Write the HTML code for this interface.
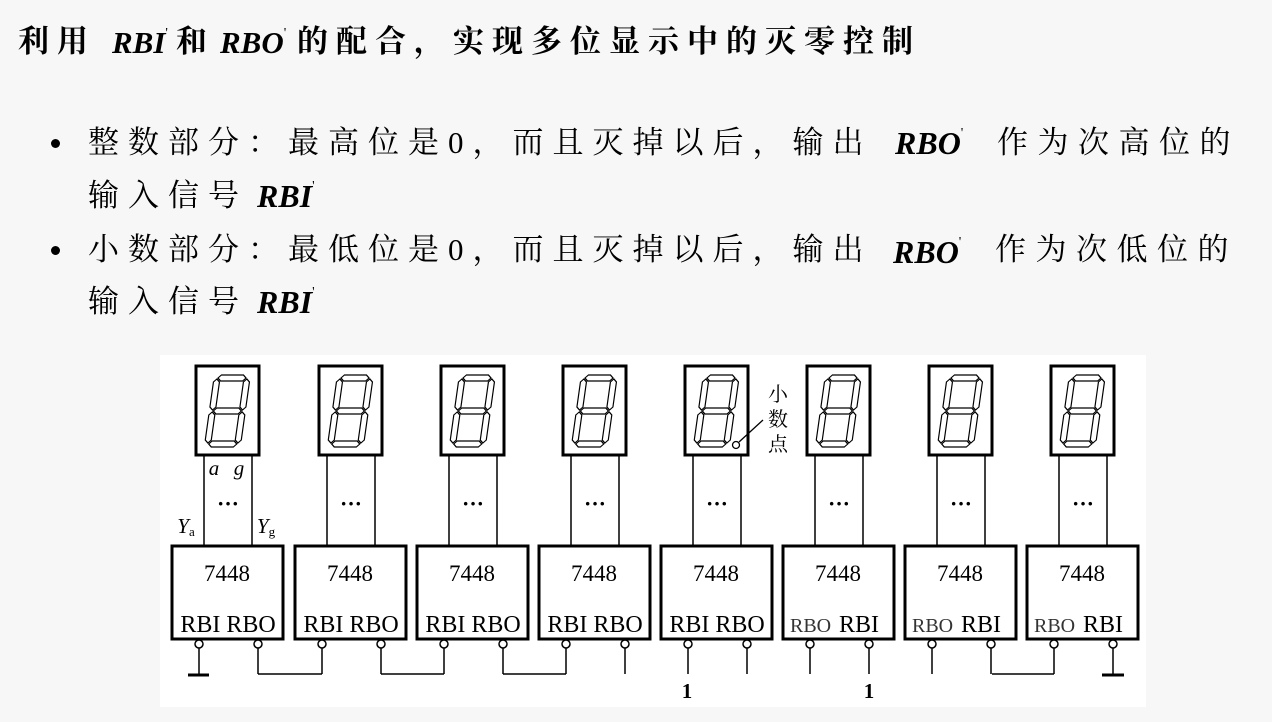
<!DOCTYPE html>
<html><head><meta charset="utf-8"><style>
html,body{margin:0;padding:0;}
body{width:1272px;height:722px;background:#f7f7f7;position:relative;overflow:hidden;font-family:"Liberation Serif","Noto Serif CJK SC",serif;color:#000;}
.t{position:absolute;white-space:nowrap;line-height:1;}
.cj{font-size:31px;letter-spacing:9px;}
.it{font-family:"Liberation Serif",serif;font-weight:bold;font-style:italic;font-size:32px;}
sup{font-size:14px;vertical-align:top;font-style:normal;font-weight:normal;}
.b{position:absolute;width:9px;height:9px;border-radius:50%;background:#000;}
.ti{font-size:31px;font-weight:bold;letter-spacing:8px;}
.tl{font-family:"Liberation Serif",serif;font-style:italic;font-weight:bold;font-size:31px;letter-spacing:0;}
</style></head><body>
<div class="t ti" style="left:18px;top:26px;">利用</div>
<div class="t tl" style="left:112px;top:27px;">RBI<sup>'</sup></div>
<div class="t ti" style="left:176px;top:26px;">和</div>
<div class="t tl" style="left:220px;top:27px;">RBO<sup>'</sup></div>
<div class="t ti" style="left:297px;top:26px;">的配合，实现多位显示中的灭零控制</div>

<div class="b" style="left:51px;top:139px;"></div>
<div class="t cj" style="left:88px;top:127px;">整数部分：最高位是0，而且灭掉以后，输出</div>
<div class="t it" style="left:895px;top:127px;">RBO<sup>'</sup></div>
<div class="t cj" style="left:997px;top:127px;letter-spacing:9.5px;">作为次高位的</div>
<div class="t cj" style="left:88px;top:180px;">输入信号</div>
<div class="t it" style="left:257px;top:180px;">RBI<sup>'</sup></div>

<div class="b" style="left:51px;top:246px;"></div>
<div class="t cj" style="left:88px;top:234px;">小数部分：最低位是0，而且灭掉以后，输出</div>
<div class="t it" style="left:893px;top:236px;">RBO<sup>'</sup></div>
<div class="t cj" style="left:995px;top:234px;letter-spacing:9.5px;">作为次低位的</div>
<div class="t cj" style="left:88px;top:286px;">输入信号</div>
<div class="t it" style="left:257px;top:286px;">RBI<sup>'</sup></div>

<svg id="d" width="1272" height="722" style="position:absolute;left:0;top:0" xmlns="http://www.w3.org/2000/svg"></svg>
<script>
var s='';
s+='<rect x="160" y="355" width="986" height="352" fill="#fff"/>';
var chips=[172,295,417,539,661,783,905,1027];
function seg(x1,y1,x2,y2){var t=6,h=t/2;
 if(y1==y2){return '<polygon points="'+[x1,y1,x1+h,y1-h,x2-h,y1-h,x2,y1,x2-h,y1+h,x1+h,y1+h].join(',')+'" fill="#fff" stroke="#000" stroke-width="1.2"/>';}
 return '<polygon points="'+[x1,y1,x1-h,y1+h,x1-h,y2-h,x1,y2,x1+h,y2-h,x1+h,y1+h].join(',')+'" fill="#fff" stroke="#000" stroke-width="1.2"/>';}
function digit(ox,oy){var w=30,hh=33;var g='<g transform="translate('+ox+','+oy+') skewX(-8) translate(9,0)">';
 g+=seg(1,0,w-1,0)+seg(1,hh,w-1,hh)+seg(1,2*hh,w-1,2*hh);
 g+=seg(0,1,0,hh-1)+seg(w,1,w,hh-1)+seg(0,hh+1,0,2*hh-1)+seg(w,hh+1,w,2*hh-1);
 return g+'</g>';}
chips.forEach(function(cx,i){
 var dx=cx+24;
 s+='<rect x="'+dx+'" y="366" width="63" height="89" fill="#fff" stroke="#000" stroke-width="3"/>';
 s+=digit(dx+12,378);
 var l1=cx+32,l2=cx+80;
 s+='<line x1="'+l1+'" y1="455" x2="'+l1+'" y2="546" stroke="#000" stroke-width="1.5"/>';
 s+='<line x1="'+l2+'" y1="455" x2="'+l2+'" y2="546" stroke="#000" stroke-width="1.5"/>';
 s+='<text x="'+(cx+56)+'" y="511" font-size="22" font-weight="bold" text-anchor="middle" font-family="Liberation Serif">···</text>';
 s+='<rect x="'+cx+'" y="546" width="111" height="93" fill="#fff" stroke="#000" stroke-width="3"/>';
 s+='<text x="'+(cx+55)+'" y="581" font-size="23" text-anchor="middle" font-family="Liberation Serif">7448</text>';
 if(i<5) s+='<text x="'+(cx+56)+'" y="632" font-size="24" text-anchor="middle" font-family="Liberation Serif">RBI RBO</text>';
 else {s+='<text x="'+(cx+7)+'" y="632" font-size="20" font-family="Liberation Serif" fill="#333">RBO</text><text x="'+(cx+56)+'" y="632" font-size="24" font-family="Liberation Serif">RBI</text>';}
 var p1=cx+27,p2=cx+86;
 [p1,p2].forEach(function(p){s+='<line x1="'+p+'" y1="648" x2="'+p+'" y2="674" stroke="#000" stroke-width="1.5"/><circle cx="'+p+'" cy="644" r="4" fill="#fff" stroke="#000" stroke-width="1.5"/>';});
});
function h(a,b){s+='<line x1="'+a+'" y1="674" x2="'+b+'" y2="674" stroke="#000" stroke-width="1.5"/>';}
h(258,322);h(381,444);h(503,566);h(992,1054);
s+='<line x1="188" y1="675" x2="209" y2="675" stroke="#000" stroke-width="3"/>';
s+='<line x1="1102" y1="675" x2="1124" y2="675" stroke="#000" stroke-width="3"/>';
s+='<text x="687" y="698" font-size="21" font-weight="bold" text-anchor="middle" font-family="Liberation Serif">1</text>';
s+='<text x="869" y="698" font-size="21" font-weight="bold" text-anchor="middle" font-family="Liberation Serif">1</text>';
s+='<text x="186" y="533" font-size="21" font-style="italic" font-family="Liberation Serif" text-anchor="middle">Y<tspan font-size="13" font-style="normal" dy="3">a</tspan></text>';
s+='<text x="266" y="533" font-size="21" font-style="italic" font-family="Liberation Serif" text-anchor="middle">Y<tspan font-size="13" font-style="normal" dy="3">g</tspan></text>';
s+='<text x="214" y="475" font-size="21" font-style="italic" font-family="Liberation Serif" text-anchor="middle">a</text>';
s+='<text x="239" y="475" font-size="21" font-style="italic" font-family="Liberation Serif" text-anchor="middle">g</text>';
s+='<circle cx="736" cy="445" r="3.5" fill="#fff" stroke="#000" stroke-width="1.3"/><line x1="739" y1="442" x2="763" y2="420" stroke="#000" stroke-width="1.3"/>';
s+='<text x="778" y="401" font-size="20" text-anchor="middle" font-family="Noto Serif CJK SC,serif">小</text>';
s+='<text x="778" y="426" font-size="20" text-anchor="middle" font-family="Noto Serif CJK SC,serif">数</text>';
s+='<text x="778" y="451" font-size="20" text-anchor="middle" font-family="Noto Serif CJK SC,serif">点</text>';
document.getElementById('d').innerHTML=s;
</script>
</body></html>
